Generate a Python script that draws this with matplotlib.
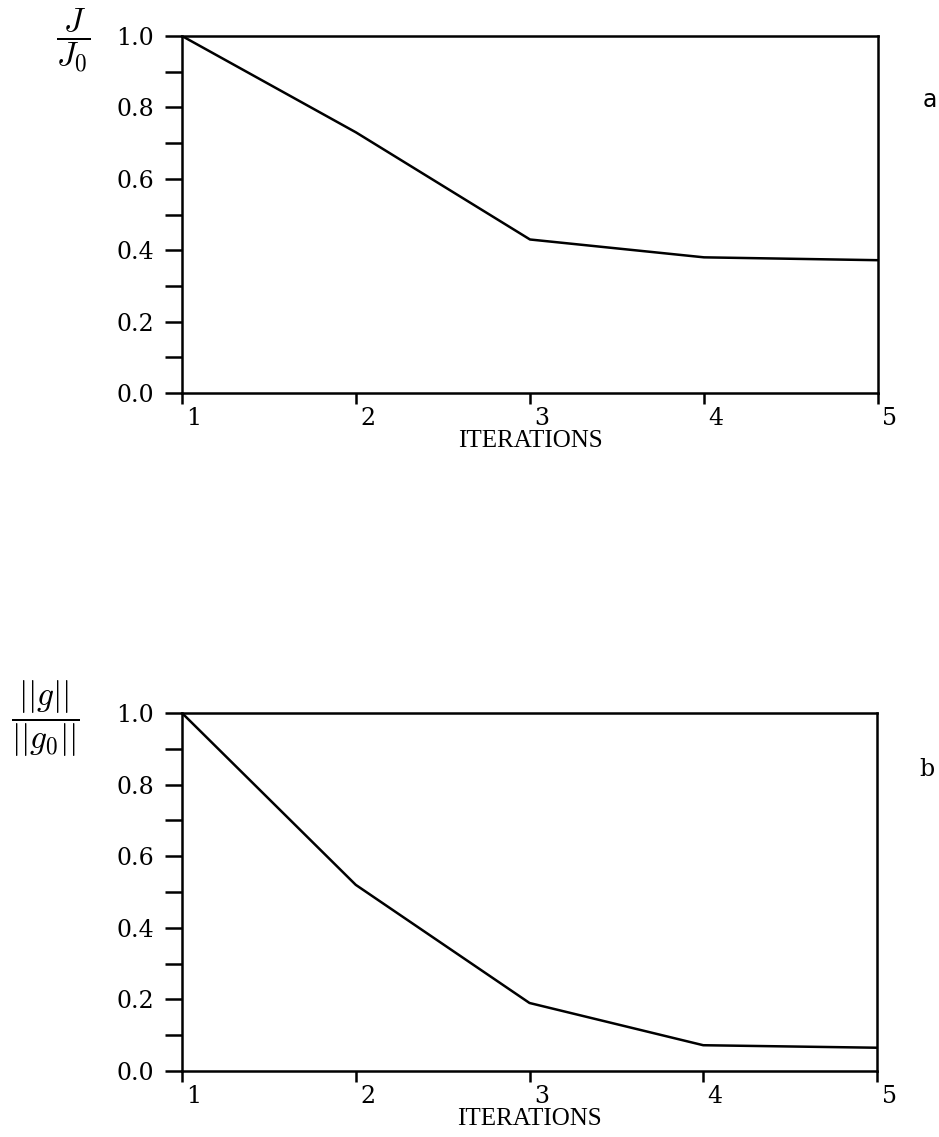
import numpy as np
import matplotlib
matplotlib.use("Agg")
from matplotlib import pyplot as plt
from matplotlib.transforms import ScaledTranslation

# datos
iteraciones = [1, 2, 3, 4, 5]
J_rel = [1.0, 0.73, 0.43, 0.38, 0.372]      # J/J0
g_rel = [1.0, 0.52, 0.19, 0.072, 0.065]     # ||g||/||g0||

y_ticks = [0.0, 0.2, 0.4, 0.6, 0.8, 1.0]
y_labels = ["0.0", "0.2", "0.4", "0.6", "0.8", "1.0"]
y_minor = [0.1, 0.3, 0.5, 0.7, 0.9]

plt.rcParams['mathtext.fontset'] = 'cm'

W, H = 939, 1137
fig = plt.figure(figsize=(W/100, H/100), dpi=100)

ax1 = fig.add_axes([182/W, 1-393/H, 696/W, 357/H])
ax2 = fig.add_axes([182/W, 1-1071/H, 695/W, 358/H])

for ax, datos in [(ax1, J_rel), (ax2, g_rel)]:
    ax.plot(iteraciones, datos, color="black", lw=1.8)
    ax.set_xlim(1, 5)
    ax.set_ylim(0, 1)
    for s in ax.spines.values():
        s.set_linewidth(1.8)
    ax.set_yticks(y_ticks)
    ax.set_yticklabels(y_labels, family="DejaVu Serif", fontsize=17)
    ax.set_yticks(y_minor, minor=True)
    ax.tick_params(axis="y", which="both", direction="out", length=12,
                   width=1.8, pad=8)
    ax.set_xticks(iteraciones)
    ax.set_xticklabels([str(i) for i in iteraciones], family="DejaVu Serif",
                       fontsize=17)
    ax.tick_params(axis="x", direction="out", length=8, width=1.8, pad=2)
    # las etiquetas del eje x estan corridas a la derecha del tick
    for lab in ax.get_xticklabels():
        lab.set_transform(lab.get_transform() +
                          ScaledTranslation(0.12, 0, fig.dpi_scale_trans))
    ax.set_xlabel("ITERATIONS", family="Liberation Serif", fontsize=18,
                  labelpad=0)

fig.text(73/W, 1-40/H, r'$\dfrac{J}{J_0}$', ha="center", va="center",
         fontsize=24)
fig.text(45/W, 1-719/H, r'$\dfrac{||g||}{||g_0||}$', ha="center",
         va="center", fontsize=24)

fig.text(930/W, 1-100/H, "a", ha="center", va="center",
         family="DejaVu Sans", fontsize=17)
fig.text(927/W, 1-770/H, "b", ha="center", va="center",
         family="DejaVu Serif", fontsize=17)

plt.savefig("out.png", dpi=100)
